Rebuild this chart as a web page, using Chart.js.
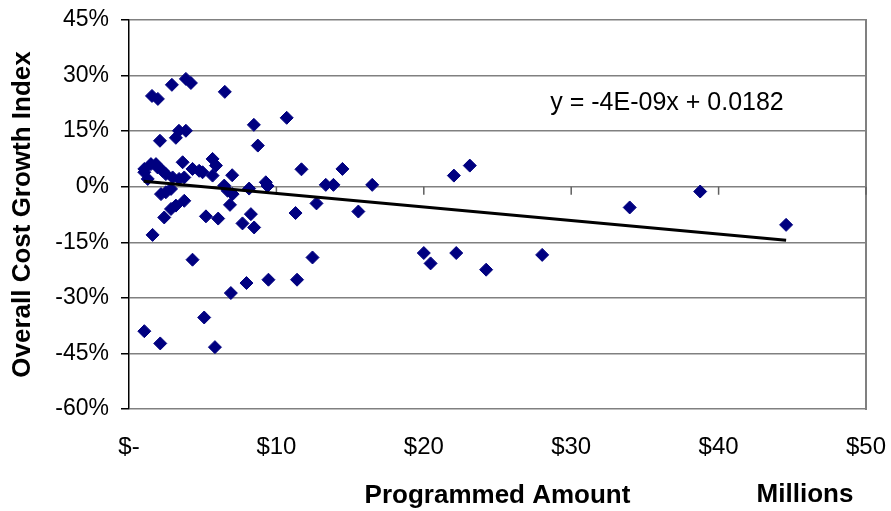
<!DOCTYPE html>
<html>
<head>
<meta charset="utf-8">
<script src="https://cdn.jsdelivr.net/npm/chart.js@4.4.1/dist/chart.umd.min.js"></script>
<style>
html,body{margin:0;padding:0;background:#fff;}
#wrap{width:891px;height:511px;position:relative;}
</style>
</head>
<body>
<div id="wrap"><canvas id="c"></canvas></div>
<script>
// Programmed amount (millions of $)
const programmedX = [
  1.56, 1.96, 2.91, 3.86, 4.2, 6.5, 8.47, 10.7, 8.74, 2.1, 3.18, 3.39, 3.86,
  1.04, 1.49, 1.94, 2.28, 2.5, 1.27, 1.83, 1.04, 2.96, 3.4, 3.75, 3.64, 4.31, 4.76, 4.99, 5.67, 5.9, 5.67, 7.0,
  11.7, 14.48, 22.04, 23.12,
  6.46, 6.69, 7.03, 8.15, 9.28, 9.4, 13.35, 13.87, 16.5, 12.72,
  2.17, 2.5, 2.85, 3.18, 3.75, 2.85, 2.39, 5.22, 6.05, 6.85, 7.7, 8.27, 8.49, 11.3, 15.56,
  1.6, 4.31, 12.45, 6.91, 7.97, 9.46, 11.4, 5.1, 1.04, 2.12, 5.83,
  20.0, 20.46, 22.2, 24.23, 28.03, 33.97, 38.75, 44.58
];
// Overall cost growth index (%)
const growthY = [
  24.5, 23.7, 27.5, 29.1, 28.0, 25.6, 16.7, 18.6, 11.1, 12.4, 13.2, 15.1, 15.1,
  4.8, 6.1, 5.2, 4.3, 3.4, 2.1, 6.1, 3.9, 2.5, 2.1, 2.5, 6.6, 4.8, 4.3, 3.9, 7.5, 5.7, 3.0, 3.1,
  4.7, 4.8, 3.0, 5.7,
  0.3, -1.1, -2.0, -0.5, 1.2, 0.2, 0.5, 0.5, 0.5, -4.5,
  -2.0, -1.5, -0.6, -5.1, -3.8, -6.0, -8.3, -8.0, -8.6, -4.9, -9.9, -7.4, -11.0, -7.1, -6.7,
  -13.0, -19.7, -19.1, -28.7, -26.0, -25.1, -25.1, -35.3, -39.0, -42.3, -43.3,
  -17.9, -20.7, -17.9, -22.4, -18.4, -5.6, -1.3, -10.3
];
// Linear trendline end points
const trendX = [1.0, 44.58];
const trendY = [1.46, -14.45];
const trendLabel = 'y = -4E-09x + 0.0182';
const xTicks = [0, 10, 20, 30, 40, 50];
const xTickLabels = ['$-', '$10', '$20', '$30', '$40', '$50'];
const yTicks = [-60, -45, -30, -15, 0, 15, 30, 45];
const xTitle = 'Programmed Amount';
const xUnitLabel = 'Millions';
const yTitle = 'Overall Cost Growth Index';

const FONT = '"Liberation Sans", Arial, sans-serif';
const NARROW = '"Liberation Sans Narrow", "Arial Narrow", "Liberation Sans", Arial, sans-serif';
const GRID = '#808080';

const decor = {
  id: 'decor',
  beforeDatasetsDraw(chart) {
    const {ctx, chartArea: a, scales: {x, y}} = chart;
    ctx.save();
    // right border
    ctx.strokeStyle = GRID;
    ctx.lineWidth = 2;
    ctx.beginPath();
    ctx.moveTo(a.right, a.top - 1);
    ctx.lineTo(a.right, a.bottom + 1);
    ctx.stroke();
    // horizontal axis at 0 with tick marks
    const y0 = y.getPixelForValue(0);
    ctx.strokeStyle = '#606060';
    ctx.lineWidth = 1.5;
    ctx.beginPath();
    xTicks.forEach(v => {
      if (v === 0) return;
      const px = x.getPixelForValue(v);
      ctx.moveTo(px, y0);
      ctx.lineTo(px, y0 + 8);
    });
    ctx.stroke();
    ctx.restore();
  },
  afterDraw(chart) {
    const {ctx} = chart;
    ctx.save();
    ctx.fillStyle = '#000';
    ctx.font = '25px ' + FONT;
    ctx.textAlign = 'center';
    ctx.textBaseline = 'middle';
    ctx.fillText(trendLabel, 667, 103);
    ctx.font = 'bold 26px ' + FONT;
    ctx.fillText(xUnitLabel, 805, 495);
    ctx.restore();
  }
};

const points = programmedX.map((v, i) => ({x: v, y: growthY[i]}));
const trend = trendX.map((v, i) => ({x: v, y: trendY[i]}));

new Chart(document.getElementById('c'), {
  type: 'scatter',
  data: {
    datasets: [
      {
        type: 'line',
        data: trend,
        borderColor: '#000',
        borderWidth: 3,
        pointRadius: 0,
        fill: false,
        order: 0
      },
      {
        data: points,
        pointStyle: 'rectRot',
        pointRadius: 6.5,
        pointBorderWidth: 1,
        backgroundColor: '#000080',
        borderColor: '#000080',
        order: 1
      }
    ]
  },
  options: {
    responsive: true,
    maintainAspectRatio: false,
    animation: false,
    layout: {padding: {top: 20, right: 25, left: 0, bottom: 0}},
    plugins: {legend: {display: false}, tooltip: {enabled: false}},
    scales: {
      x: {
        type: 'linear',
        min: 0, max: 50,
        afterBuildTicks(s) { s.ticks = xTicks.map(v => ({value: v})); },
        afterFit(s) { s.height = 102; s.paddingLeft = 0; s.paddingRight = 0; },
        grid: {display: false, drawTicks: false},
        border: {display: false},
        ticks: {
          padding: 24,
          color: '#000',
          font: {family: NARROW, size: 24},
          callback: (v) => xTickLabels[xTicks.indexOf(v)]
        },
        title: {
          display: true,
          text: xTitle,
          color: '#000',
          font: {family: FONT, size: 26, weight: 'bold'},
          padding: {top: 8, bottom: 0}
        }
      },
      y: {
        type: 'linear',
        min: -60, max: 45,
        afterBuildTicks(s) { s.ticks = yTicks.map(v => ({value: v})); },
        afterFit(s) { s.width = 129; s.paddingTop = 0; s.paddingBottom = 0; },
        grid: {color: GRID, lineWidth: 1.5, tickLength: 8, tickColor: '#000', tickWidth: 1.5},
        border: {display: true, color: '#000', width: 1.5},
        ticks: {
          padding: 12,
          color: '#000',
          font: {family: FONT, size: 23},
          callback: (v) => v + '%'
        },
        title: {
          display: true,
          text: yTitle,
          color: '#000',
          font: {family: FONT, size: 26, weight: 'bold'},
          padding: {top: 7, bottom: 0}
        }
      }
    }
  },
  plugins: [decor]
});
</script>
</body>
</html>
